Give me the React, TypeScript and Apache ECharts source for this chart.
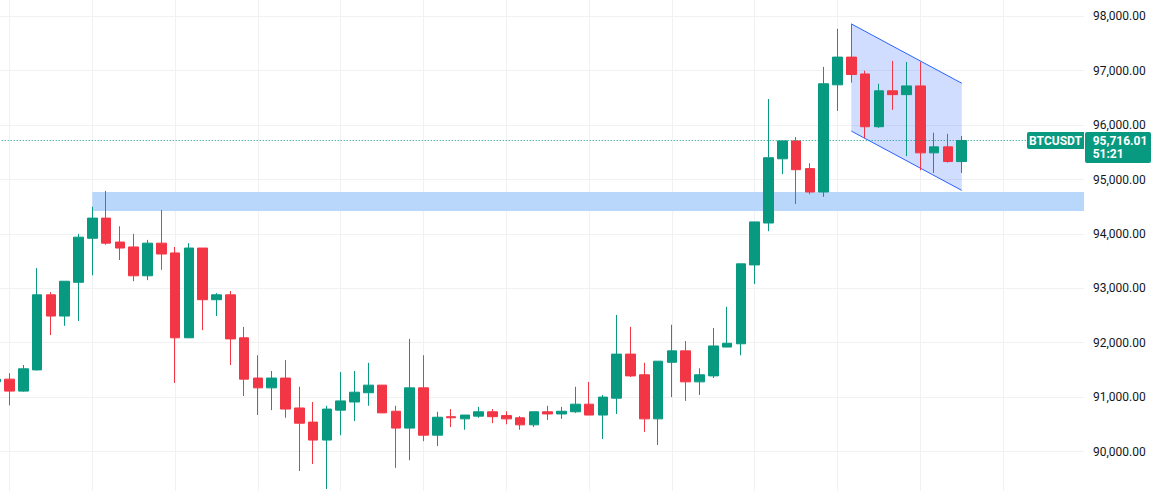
import React, { useEffect, useRef } from "react";
import * as echarts from "echarts";

// 4h candles, index 0 is the partially visible first candle on the left edge
const OPEN = [
  91280, 91330, 91110, 91500, 92880, 92490, 93110, 93920, 94290, 93850,
  93760, 93230, 93830, 93650, 92090, 93740, 92790, 92880, 92090, 91350,
  91170, 91350, 90800, 90540, 90210, 90760, 90910, 91080, 91220, 90740,
  90430, 91170, 90300, 90640, 90600, 90650, 90730, 90660, 90620, 90490,
  90730, 90690, 90730, 90870, 90670, 90980, 91790, 91410, 90600, 91640,
  91850, 91280, 91390, 91920, 91980, 93430, 94200, 95380, 95710, 95200,
  94770, 96740, 97250, 96940, 95970, 96630, 96560, 96720, 95490, 95600,
  95330,
];
const CLOSE = [
  91330, 91110, 91520, 92880, 92490, 93130, 93940, 94290, 93830, 93740,
  93230, 93830, 93630, 92090, 93740, 92790, 92880, 92070, 91330, 91170,
  91350, 90780, 90520, 90210, 90780, 90930, 91090, 91220, 90710, 90430,
  91170, 90300, 90630, 90620, 90670, 90730, 90640, 90600, 90490, 90730,
  90690, 90740, 90870, 90670, 91000, 91790, 91390, 90600, 91660, 91850,
  91280, 91410, 91940, 91990, 93450, 94220, 95400, 95710, 95180, 94770,
  96760, 97250, 96930, 95970, 96630, 96560, 96720, 95490, 95600, 95330,
  95716.01,
];
const LOW = [
  91150, 90850, 91100, 91490, 92140, 92310, 92400, 93240, 93800, 93520,
  93130, 93150, 93340, 91260, 92090, 92230, 92490, 91590, 91020, 90670,
  90760, 90620, 89640, 89770, 89310, 90300, 90560, 90840, 90710, 89700,
  89840, 90190, 90100, 90450, 90400, 90620, 90520, 90500, 90400, 90450,
  90580, 90600, 90710, 90670, 90230, 90690, 91370, 90360, 90120, 91000,
  90930, 91040, 91350, 91920, 91770, 93080, 94050, 95100, 94550, 94730,
  94680, 96260, 96780, 95760, 95950, 96280, 95430, 95170, 95120, 95310,
  95120,
];
const HIGH = [
  91400, 91440, 91590, 93370, 92930, 93130, 94000, 94500, 94790, 94140,
  94000, 93890, 94440, 93760, 93830, 93740, 92910, 92950, 92290, 91770,
  91480, 91680, 91190, 90910, 90840, 91460, 91480, 91630, 91220, 90840,
  92070, 91770, 90730, 90780, 90670, 90820, 90780, 90740, 90650, 90730,
  90840, 90820, 91190, 91280, 91040, 92510, 92290, 91630, 91660, 92330,
  92030, 91530, 92270, 92660, 93450, 94220, 96480, 95710, 95780, 95300,
  97070, 97770, 97860, 97000, 96760, 97180, 97160, 97160, 95860, 95840,
  95800,
];

// price scale
const Y_MIN = 89000;
const Y_MAX = 99000;
const Y_STEP = 1000;

// support zone (starts at candle index 7, extends right)
const ZONE_START = [7];
const ZONE_PRICES = [94770, 94420];

// descending channel: candle indices, top line and bottom line prices
const CHANNEL_CANDLES = [62, 70];
const CHANNEL_TOP = [97860, 96770];
const CHANNEL_BOTTOM = [95890, 94800];

const SYMBOL = "BTCUSDT";
const LAST_PRICE = 95716.01;
const COUNTDOWN = "51:21";

const UP = "#089981";
const DOWN = "#F23645";
const GRID = "#f0f1f3";

// candle index -> x value (grid lines every 6 candles, through candle 1)
const xOf = (i: number) => i - 1;
const X_MIN = -6;
const X_MAX = 77.86;

const fmt = (v: number) =>
  v.toLocaleString("en-US", { minimumFractionDigits: 2, maximumFractionDigits: 2 });

export default function App() {
  const ref = useRef<HTMLDivElement>(null);

  useEffect(() => {
    if (!ref.current) return;
    const chart = echarts.init(ref.current, undefined, { renderer: "svg" });

    const candles = OPEN.map((o, i) => [xOf(i), o, CLOSE[i], LOW[i], HIGH[i]]);

    const option: any = {
      animation: false,
      backgroundColor: "#ffffff",
      grid: {
        left: -73.3,
        right: 72,
        top: -38.1,
        bottom: -14.9,
        containLabel: false,
        outerBoundsMode: "none",
      },
      xAxis: {
        type: "value",
        min: X_MIN,
        max: X_MAX,
        interval: 6,
        axisLine: { show: false },
        axisTick: { show: false },
        axisLabel: { show: false },
        splitLine: {
          show: true,
          showMinLine: false,
          showMaxLine: false,
          lineStyle: { color: GRID, width: 1 },
        },
      },
      yAxis: {
        type: "value",
        position: "right",
        min: Y_MIN,
        max: Y_MAX,
        interval: Y_STEP,
        axisLine: { show: false },
        axisTick: { show: false },
        axisLabel: {
          margin: 9,
          color: "#131722",
          fontFamily: "Roboto",
          fontSize: 12,
          showMinLabel: false,
          showMaxLabel: false,
          formatter: (v: number) => fmt(v),
        },
        splitLine: { show: true, lineStyle: { color: GRID, width: 1 } },
      },
      series: [
        {
          type: "custom",
          z: 1,
          silent: true,
          data: [
            [
              xOf(CHANNEL_CANDLES[0]),
              CHANNEL_TOP[0],
              CHANNEL_BOTTOM[0],
              xOf(CHANNEL_CANDLES[1]),
              CHANNEL_TOP[1],
              CHANNEL_BOTTOM[1],
            ],
          ],
          encode: { x: [0, 3], y: [1, 2, 4, 5] },
          renderItem: (_params: any, api: any) => {
            const tl = api.coord([api.value(0), api.value(1)]);
            const bl = api.coord([api.value(0), api.value(2)]);
            const tr = api.coord([api.value(3), api.value(4)]);
            const br = api.coord([api.value(3), api.value(5)]);
            return {
              type: "group",
              children: [
                {
                  type: "polygon",
                  shape: { points: [tl, tr, br, bl] },
                  style: { fill: "rgba(41,98,255,0.22)" },
                },
                {
                  type: "line",
                  shape: { x1: tl[0], y1: tl[1], x2: tr[0], y2: tr[1] },
                  style: { stroke: "#2962ff", lineWidth: 1 },
                },
                {
                  type: "line",
                  shape: { x1: bl[0], y1: bl[1], x2: br[0], y2: br[1] },
                  style: { stroke: "#2962ff", lineWidth: 1 },
                },
              ],
            };
          },
          markArea: {
            silent: true,
            itemStyle: { color: "#b9d6fb" },
            label: { show: false },
            data: [
              [
                { xAxis: xOf(ZONE_START[0]), yAxis: ZONE_PRICES[0] },
                { yAxis: ZONE_PRICES[1] },
              ],
            ],
          },
        },
        {
          type: "candlestick",
          z: 3,
          barWidth: 10,
          data: candles,
          itemStyle: {
            color: UP,
            color0: DOWN,
            borderColor: UP,
            borderColor0: DOWN,
            borderWidth: 1,
          },
          markLine: {
            silent: true,
            symbol: ["none", "none"],
            label: { show: false },
            lineStyle: { color: UP, type: [1, 2], width: 1, opacity: 1 },
            data: [{ yAxis: LAST_PRICE }],
          },
        },
      ],
    };

    chart.setOption(option);

    const py = chart.convertToPixel({ yAxisIndex: 0 }, LAST_PRICE) as number;
    const gx = chart.convertToPixel({ xAxisIndex: 0 }, X_MAX) as number;

    chart.setOption({
      graphic: [
        {
          type: "rect",
          z: 100,
          shape: { x: gx - 57, y: py - 8.5, width: 57, height: 17, r: [2, 0, 0, 2] },
          style: { fill: UP },
        },
        {
          type: "text",
          z: 101,
          x: gx - 28.5,
          y: py + 0.5,
          style: {
            text: SYMBOL,
            fill: "#ffffff",
            font: "bold 12px Roboto",
            textAlign: "center",
            textVerticalAlign: "middle",
          },
        },
        {
          type: "rect",
          z: 100,
          shape: { x: gx + 1, y: py - 8.5, width: 66, height: 31, r: 2 },
          style: { fill: UP },
        },
        {
          type: "text",
          z: 101,
          x: gx + 8.7,
          y: py,
          style: {
            text: fmt(LAST_PRICE),
            fill: "#ffffff",
            font: "bold 12px Roboto",
            textAlign: "left",
            textVerticalAlign: "middle",
          },
        },
        {
          type: "text",
          z: 101,
          x: gx + 8.7,
          y: py + 13.5,
          style: {
            text: COUNTDOWN,
            fill: "#ffffff",
            font: "bold 12px Roboto",
            textAlign: "left",
            textVerticalAlign: "middle",
          },
        },
      ],
    });

    return () => chart.dispose();
  }, []);

  return (
    <div
      ref={ref}
      style={{ position: "absolute", left: 0, top: 0, width: 1156, height: 491, background: "#fff" }}
    />
  );
}
